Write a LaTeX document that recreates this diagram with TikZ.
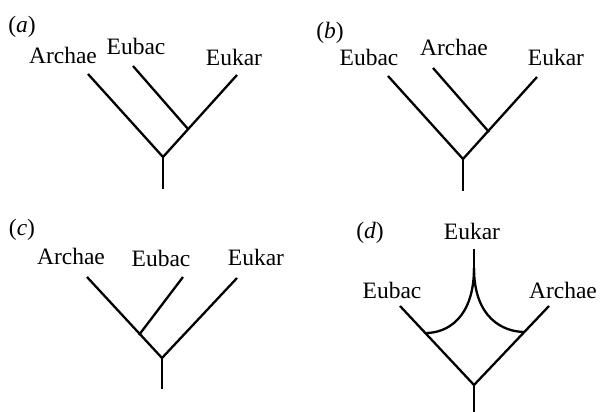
\documentclass[tikz,border=0pt]{standalone}
\usepackage{fontspec}
\setmainfont{Liberation Serif}
\begin{document}
\begin{tikzpicture}[x=1pt,y=-1pt,
  lab/.style={inner sep=0pt, font=\fontsize{23.5}{26}\selectfont},
  branch/.style={line width=2.3pt, line cap=butt, line join=miter}]
\useasboundingbox (0,0) rectangle (600,412);
% ---------- (a)
\node[lab] (pa) at (22,27) {(\textit{a})};
\node[lab] (aA) at (63,55) {Archae};
\node[lab] (aB) at (136,46) {Eubac};
\node[lab] (aK) at (234,57) {Eukar};
\coordinate (aAt) at (88,74);
\coordinate (aBt) at (133,66);
\coordinate (aKt) at (237,75);
\coordinate (aJ) at (188,129);
\coordinate (aR) at (163,157);
\coordinate (aS) at (163,189);
\draw[branch] (aAt) -- (aR) -- (aKt);
\draw[branch] (aBt) -- (aJ);
\draw[branch] (aR) -- (aS);
% ---------- (b)
\node[lab] (pb) at (330,33) {(\textit{b})};
\node[lab] (bB) at (369,57) {Eubac};
\node[lab] (bA) at (454,47) {Archae};
\node[lab] (bK) at (556,57) {Eukar};
\coordinate (bBt) at (388,76);
\coordinate (bAt) at (433,68);
\coordinate (bKt) at (537,77);
\coordinate (bJ) at (489,132);
\coordinate (bR) at (463,159);
\coordinate (bS) at (463,191);
\draw[branch] (bBt) -- (bR) -- (bKt);
\draw[branch] (bAt) -- (bJ);
\draw[branch] (bR) -- (bS);
% ---------- (c)
\node[lab] (pc) at (22,230) {(\textit{c})};
\node[lab] (cA) at (71,256) {Archae};
\node[lab] (cB) at (161,258) {Eubac};
\node[lab] (cK) at (256,257) {Eukar};
\coordinate (cAt) at (87,277);
\coordinate (cBt) at (183,277);
\coordinate (cKt) at (237,278);
\coordinate (cJ) at (139,335);
\coordinate (cR) at (162,358);
\coordinate (cS) at (162,389);
\draw[branch] (cAt) -- (cR) -- (cKt);
\draw[branch] (cBt) -- (cJ);
\draw[branch] (cR) -- (cS);
% ---------- (d)
\node[lab] (pd) at (370,233) {(\textit{d})};
\node[lab] (dK) at (472,231) {Eukar};
\node[lab] (dB) at (392,290) {Eubac};
\node[lab] (dA) at (563,290) {Archae};
\coordinate (dBt) at (400,306);
\coordinate (dAt) at (549,306);
\coordinate (dR) at (474,385);
\coordinate (dS) at (474,412);
\coordinate (dKt) at (474,249);
\coordinate (dC) at (474,268);
\coordinate (dL) at (426,333);
\coordinate (dRr) at (525,332);
\draw[branch] (dBt) -- (dR) -- (dAt);
\draw[branch] (dR) -- (dS);
\draw[branch] (dKt) -- (dC);
\draw[branch] (dC) .. controls (474,318) and (447,333) .. (dL);
\draw[branch] (dC) .. controls (474,318) and (503,332) .. (dRr);
\end{tikzpicture}
\end{document}
